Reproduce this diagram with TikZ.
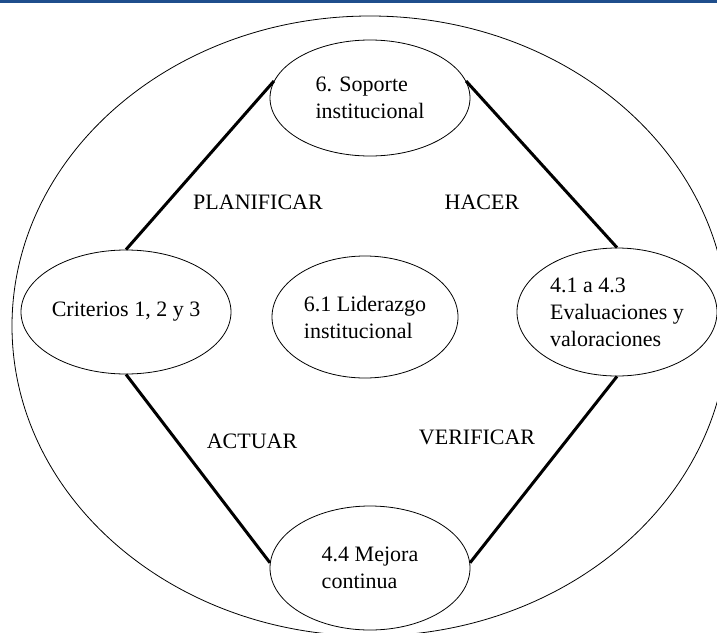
\documentclass[tikz,border=0pt]{standalone}
\usepackage{fontspec}
\setmainfont{Liberation Serif}
\usetikzlibrary{shapes.geometric}
\definecolor{barblue}{RGB}{31,78,140}

\begin{document}
\begin{tikzpicture}[x=1pt,y=-1pt,
   every node/.style={font=\fontsize{22}{27}\selectfont},
   caja/.style={ellipse,draw,line width=0.8pt,inner sep=0pt,minimum width=200pt,minimum height=124pt,align=left},
   conn/.style={line width=3pt}]
   \clip (0,0) rectangle (717,632);
   \fill[barblue] (0,0) rectangle (717,3);
   \draw[line width=0.8pt] (370,326) ellipse [x radius=358pt, y radius=310pt];
   \node[caja,minimum height=116pt] (sop) at (370,98) {6. Soporte\\institucional};
   \node[caja] (crit) at (126,312) {Criterios 1, 2 y 3};
   \node[caja,minimum height=128pt] (eval) at (617,312) {4.1 a 4.3\\Evaluaciones y\\valoraciones};
   \node[caja,minimum width=186pt,minimum height=122pt] (lid) at (365,317) {6.1 Liderazgo\\institucional};
   \node[caja] (mej) at (370,568) {4.4 Mejora\\continua};
   \node (plan) at (258,202) {PLANIFICAR};
   \node (hacer) at (482,202) {HACER};
   \node (act) at (252,441) {ACTUAR};
   \node (verif) at (477,437) {VERIFICAR};
   \draw[conn] (sop.170) -- (crit.north)
               (sop.10) -- (eval.north)
               (crit.south) -- (mej.177)
               (eval.south) -- (mej.3);
\end{tikzpicture}
\end{document}
